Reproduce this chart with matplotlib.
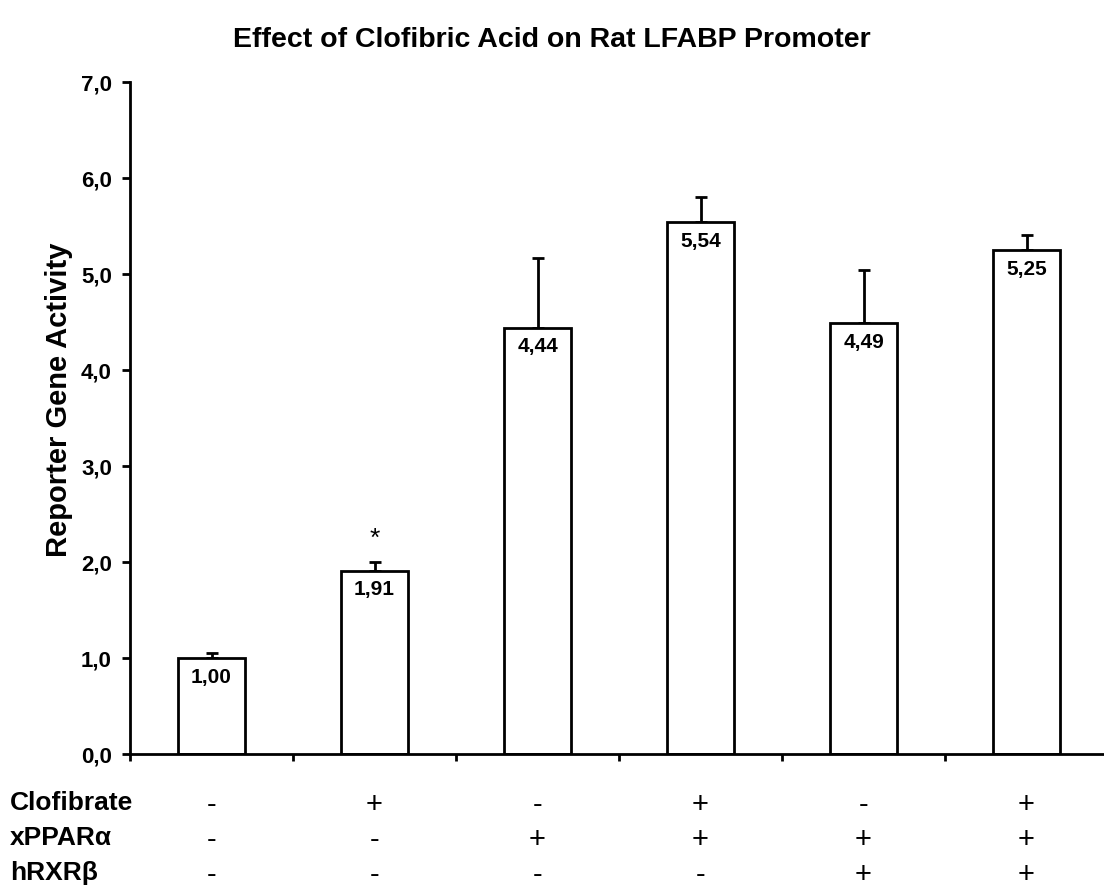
import matplotlib
matplotlib.use("Agg")
import matplotlib.pyplot as plt
import numpy as np

plt.rcParams["font.family"] = ["Liberation Sans", "DejaVu Sans"]

values = [1.00, 1.91, 4.44, 5.54, 4.49, 5.25]
errors = [0.05, 0.09, 0.73, 0.26, 0.55, 0.16]
value_labels = ["1,00", "1,91", "4,44", "5,54", "4,49", "5,25"]
row_names = ["Clofibrate", "xPPARα", "hRXRβ"]
clofibrate = ["-", "+", "-", "+", "-", "+"]
xppar = ["-", "-", "+", "+", "+", "+"]
hrxr = ["-", "-", "-", "-", "+", "+"]
yticks = [0, 1, 2, 3, 4, 5, 6, 7]

fig = plt.figure(figsize=(11.04, 8.90), dpi=100)
ax = fig.add_axes([130 / 1104, 136 / 890, 978 / 1104, 672 / 890])

x = np.arange(len(values)) + 0.5
ax.bar(x, values, width=0.405, color="white", edgecolor="black", linewidth=2, zorder=2)
ax.errorbar(x, values, yerr=[np.zeros(len(errors)), errors], fmt="none",
            ecolor="black", elinewidth=2, capsize=4, capthick=2, zorder=1)

for xi, v, lab in zip(x, values, value_labels):
    ax.text(xi, v - 0.1, lab, ha="center", va="top", fontsize=15, fontweight="bold")
ax.text(x[1], values[1] + errors[1] + 0.12, "*", ha="center", va="bottom", fontsize=19)

ax.set_xlim(0, 6)
ax.set_ylim(0, 7)
ax.set_yticks(yticks)
ax.set_yticklabels([f"{t},0" for t in yticks], fontsize=16, fontweight="bold")
ax.set_xticks(np.arange(0, 7))
ax.set_xticklabels([])
ax.tick_params(axis="both", direction="out", length=6, width=2)
ax.tick_params(axis="y", pad=7)
ax.tick_params(axis="x", length=5)
for s in ["top", "right"]:
    ax.spines[s].set_visible(False)
for s in ["left", "bottom"]:
    ax.spines[s].set_linewidth(2)

ax.set_ylabel("Reporter Gene Activity", fontsize=21, fontweight="bold", labelpad=6, y=0.527)
fig.text(0.5, 1 - 40 / 890, "Effect of Clofibric Acid on Rat LFABP Promoter",
         ha="center", va="center", fontsize=20.5, fontweight="bold")

# condition table below the axis (pixel rows, evenly spaced)
label_base = [810, 845, 880]
sign_y = [805, 840, 875]
for name, signs, lb, sy in zip(row_names, [clofibrate, xppar, hrxr], label_base, sign_y):
    fig.text(10 / 1104, 1 - lb / 890, name, ha="left", va="baseline",
             fontsize=19, fontweight="bold")
    for xi, sgn in zip(x, signs):
        fx = (130 + xi * 163) / 1104
        fig.text(fx, 1 - sy / 890, sgn, ha="center", va="center", fontsize=21)

fig.savefig("out.png", dpi=100)
